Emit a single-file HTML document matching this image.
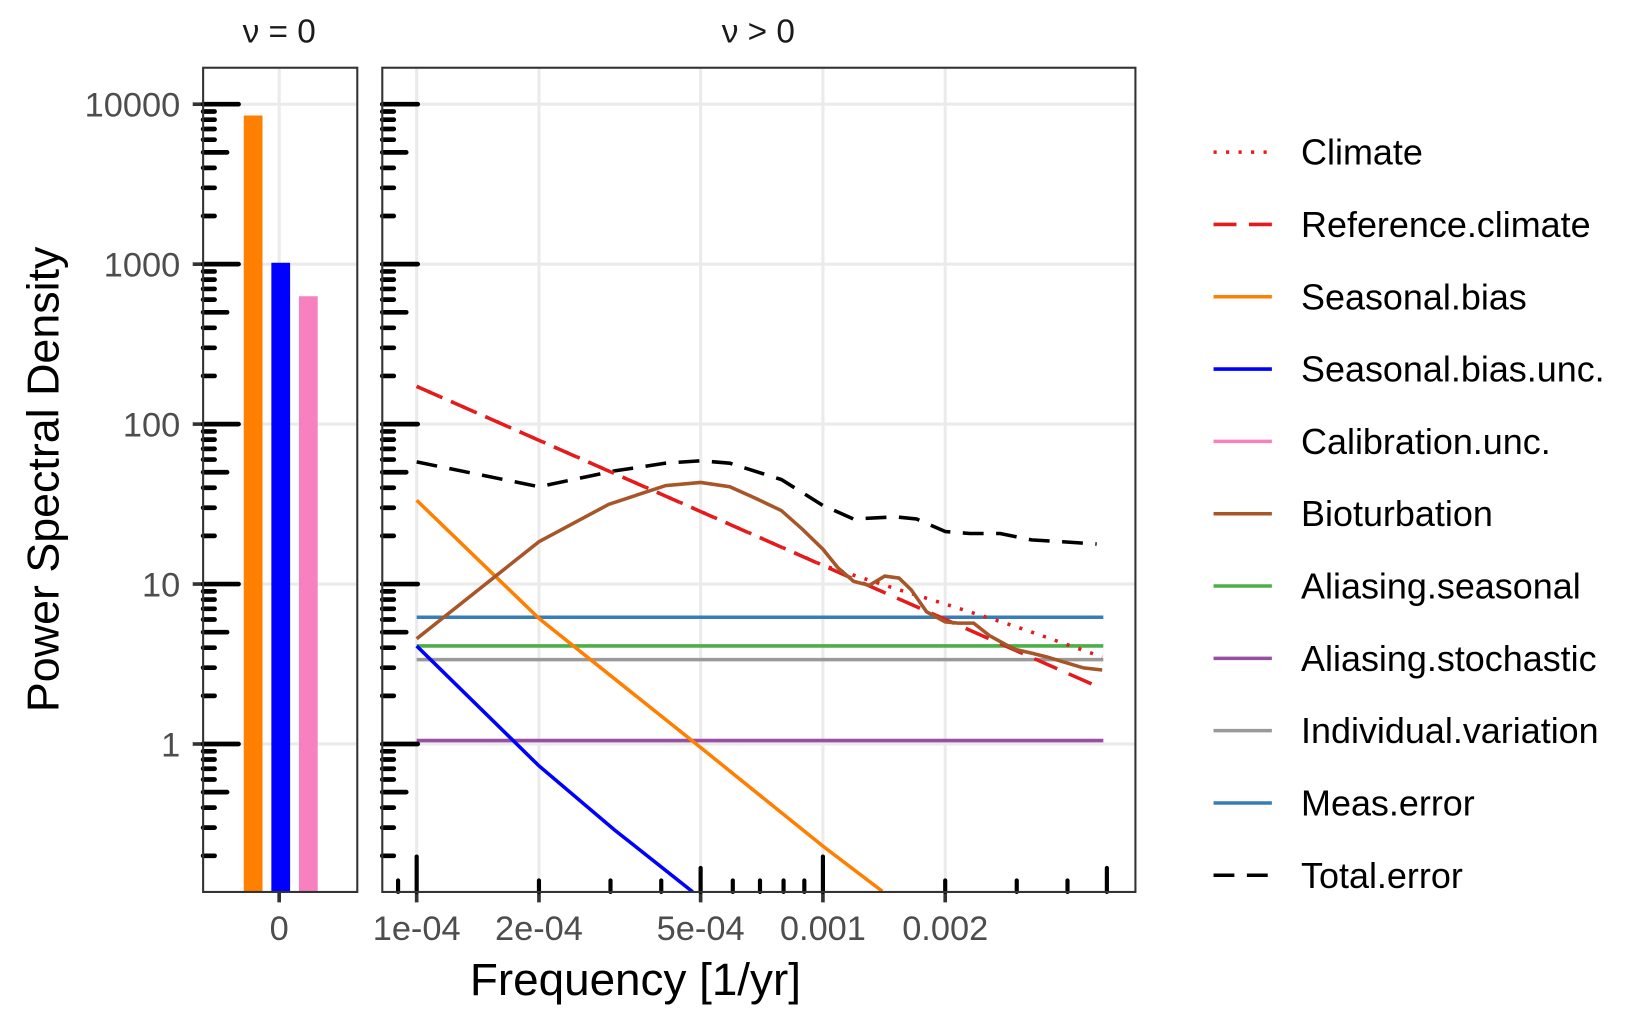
<!DOCTYPE html>
<html><head><meta charset="utf-8"><style>
html,body{margin:0;padding:0;background:#fff;}
svg{display:block;font-family:"Liberation Sans",sans-serif;}
</style></head><body>
<svg id="chart" width="1625" height="1017" viewBox="0 0 1560 976" preserveAspectRatio="none" xmlns="http://www.w3.org/2000/svg">
<defs><clipPath id="rclip"><rect x="367" y="65" width="723" height="791"/></clipPath></defs>
<g id="grid"></g>
<g id="marks"></g>
<g id="ticks"></g>
<rect x="195" y="65" width="148" height="791" fill="none" stroke="#333" stroke-width="2"/>
<rect x="367" y="65" width="723" height="791" fill="none" stroke="#333" stroke-width="2"/>
<text x="268" y="41" font-size="32" text-anchor="middle" fill="#1a1a1a">ν = 0</text>
<text x="728" y="41" font-size="32" text-anchor="middle" fill="#1a1a1a">ν &gt; 0</text>
<text transform="translate(56,460) rotate(-90)" font-size="43" text-anchor="middle" fill="#000">Power Spectral Density</text>
<text x="610" y="955" font-size="44" text-anchor="middle" fill="#000">Frequency [1/yr]</text>
<text x="268" y="902" font-size="33" text-anchor="middle" fill="#4d4d4d">0</text>
<g id="legend"></g>
</svg>
<script>
const yTickVals=[10000,1000,100,10,1];
const yTickLabels=["10000","1000","100","10","1"];
const xTickVals=[1e-4,2e-4,5e-4,1e-3,2e-3];
const xTickLabels=["1e-04","2e-04","5e-04","0.001","0.002"];
const barNames=["Seasonal.bias","Seasonal.bias.unc.","Calibration.unc."];
const barVals=[8500,1020,630];
const refF=[1e-4,4.72e-3];
const refV=[172,2.3];
const climF=[1e-4,1e-3,1.5e-3,2e-3,3e-3,4.87e-3];
const climV=[172,13.1,9.4,7.5,5.4,3.5];
const sbF=[1e-4,2e-4,5e-4,1e-3,1.4e-3];
const sbV=[33.4,6.1,0.95,0.23,0.12];
const sbuF=[1e-4,2e-4,3.07e-4,4.78e-4];
const sbuV=[4.1,0.73,0.29,0.119];
const bioF=[1e-4,2e-4,2.97e-4,4.1e-4,5e-4,5.9e-4,6.8e-4,7.9e-4,8.9e-4,1e-3,1.09e-3,1.19e-3,1.3e-3,1.42e-3,1.54e-3,1.65e-3,1.8e-3,2e-3,2.15e-3,2.35e-3,2.57e-3,2.81e-3,2.98e-3,3.26e-3,3.56e-3,3.89e-3,4.38e-3,4.87e-3];
const bioV=[4.55,18.4,31.5,41.3,43.2,40.6,34.5,28.8,22,16.5,12.6,10.4,9.8,11.2,10.9,9.2,6.7,5.8,5.7,5.7,4.76,4.2,3.9,3.7,3.5,3.27,2.99,2.9];
const totF=[1e-4,2e-4,3.07e-4,4.1e-4,5e-4,5.9e-4,7.9e-4,1e-3,1.19e-3,1.51e-3,1.7e-3,2e-3,2.3e-3,2.73e-3,3.26e-3,3.89e-3,4.72e-3];
const totV=[58,40.6,51,57,59,57,45,31,25.5,26.3,25.5,21.3,20.7,20.7,18.9,18.4,17.8];
const flatF=[1e-4,4.9e-3];
const measV=6.2, aliSeasV=4.1, indivV=3.37, aliStochV=1.05;
const legNames=["Climate","Reference.climate","Seasonal.bias","Seasonal.bias.unc.","Calibration.unc.","Bioturbation","Aliasing.seasonal","Aliasing.stochastic","Individual.variation","Meas.error","Total.error"];

const NS="http://www.w3.org/2000/svg";
const Y=v=>714-153.5*Math.log10(v);
const X=f=>400+390*Math.log10(f/1e-4);
function mk(tag,parent,attrs){const e=document.createElementNS(NS,tag);for(const k in attrs)e.setAttribute(k,attrs[k]);parent.appendChild(e);return e;}
const grid=document.getElementById('grid'),marks=document.getElementById('marks'),ticks=document.getElementById('ticks'),leg=document.getElementById('legend');
yTickVals.forEach((v,i)=>{
  [[195,343],[367,1090]].forEach(([a,b])=>{
    const l=mk('line',grid,{x1:a,x2:b,y1:Y(v),y2:Y(v),stroke:'#ebebeb','stroke-width':3});
    
    
  });
  const t=mk('text',ticks,{x:173,y:Y(v)+12,'font-size':33,'text-anchor':'end',fill:'#4d4d4d'});
  t.textContent=yTickLabels[i];
  
  
  mk('line',ticks,{x1:185,x2:195,y1:Y(v),y2:Y(v),stroke:'#333','stroke-width':3.5});
});
{const l=mk('line',grid,{x1:268,x2:268,y1:65,y2:856,stroke:'#ebebeb','stroke-width':3});

}
xTickVals.forEach((f,i)=>{
  const l=mk('line',grid,{x1:X(f),x2:X(f),y1:65,y2:856,stroke:'#ebebeb','stroke-width':3});
  
  
  const t=mk('text',ticks,{x:X(f),y:902,'font-size':33,'text-anchor':'middle',fill:'#4d4d4d'});
  t.textContent=xTickLabels[i];
  
  
  mk('line',ticks,{x1:X(f),x2:X(f),y1:856,y2:866,stroke:'#333','stroke-width':3.5});
});
mk('line',ticks,{x1:268,x2:268,y1:856,y2:866,stroke:'#333','stroke-width':3.5});
for(let d=-1;d<=4;d++){for(let m=1;m<=9;m++){const v=m*Math.pow(10,d);const y=Y(v);if(y<65||y>856)continue;
  const len=m===1?34:(m===5?23:11);
  [195,367].forEach(x0=>mk('line',ticks,{x1:x0,x2:x0+len,y1:y,y2:y,stroke:'#000','stroke-width':4.5,'stroke-linecap':'round'}));}}
for(let d=-5;d<=-3;d++){for(let m=1;m<=9;m++){const f=m*Math.pow(10,d);const x=X(f);if(x<368||x>1089)continue;
  const len=m===1?34:(m===5?23:11);
  mk('line',ticks,{x1:x,x2:x,y1:856,y2:856-len,stroke:'#000','stroke-width':4,'stroke-linecap':'round'});}}
const barCols=['#ff7f00','#0000ff','#f781bf'];
barVals.forEach((v,i)=>{
  const b=mk('rect',marks,{x:234+i*26.5,y:Y(v),width:18,height:856-Y(v),fill:barCols[i]});
  
  
});
const rg=mk('g',marks,{'clip-path':'url(#rclip)'});
function line(F,V,col,dash,name){
  const d=F.map((f,i)=>(i?'L':'M')+X(f).toFixed(1)+','+Y(V[i]).toFixed(1)).join('');
  const p=mk('path',rg,{d:d,fill:'none',stroke:col,'stroke-width':3.4});
  if(dash)p.setAttribute('stroke-dasharray',dash);
  
  
}
line(flatF,[measV,measV],'#377eb8',null,'meas-error-line');
line(flatF,[aliSeasV,aliSeasV],'#4daf4a',null,'aliasing-seasonal-line');
line(flatF,[indivV,indivV],'#999999',null,'individual-variation-line');
line(flatF,[aliStochV,aliStochV],'#984ea3',null,'aliasing-stochastic-line');
line(sbF,sbV,'#ff7f00',null,'seasonal-bias-line');
line(sbuF,sbuV,'#0000ff',null,'seasonal-bias-unc-line');
line(totF,totV,'#000','20 12','total-error-line');
line(climF,climV,'#e41a1c','3 9','climate-line');
line(refF,refV,'#e41a1c','24 12','reference-climate-line');
line(bioF,bioV,'#a65628',null,'bioturbation-line');
const legCols=['#e41a1c','#e41a1c','#ff7f00','#0000ff','#f781bf','#a65628','#4daf4a','#984ea3','#999999','#377eb8','#000'];
const legDash=['3 9','22 12',null,null,null,null,null,null,null,null,'20 12'];
legNames.forEach((n,i)=>{
  const y=146+69.4*i;
  const g=mk('g',leg,{});
  
  
  const l=mk('line',g,{x1:1165,x2:1221,y1:y,y2:y,stroke:legCols[i],'stroke-width':3.4});
  if(legDash[i])l.setAttribute('stroke-dasharray',legDash[i]);
  const t=mk('text',g,{x:1249,y:y+12,'font-size':34.5,fill:'#000'});
  t.textContent=n;
});
</script>
</body></html>
